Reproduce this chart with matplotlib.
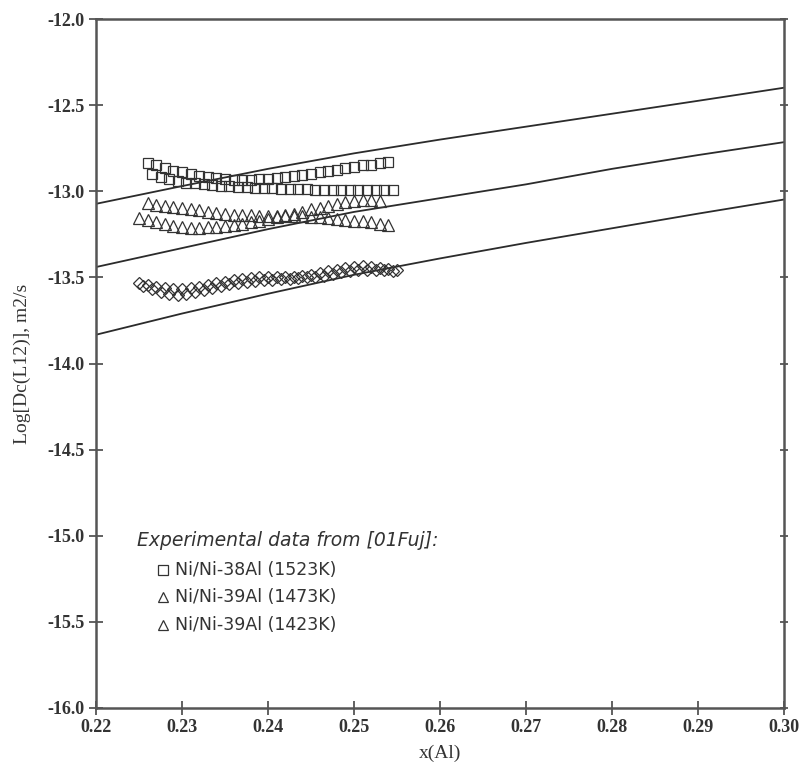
import numpy as np
import matplotlib.pyplot as plt

# calculated curves (three temperatures)
line_x = [0.22, 0.23, 0.24, 0.25, 0.26, 0.27, 0.28, 0.29, 0.30]
line_1523 = [-13.073, -12.97, -12.87, -12.78, -12.70, -12.625, -12.55, -12.475, -12.399]
line_1473 = [-13.44, -13.33, -13.22, -13.12, -13.04, -12.96, -12.87, -12.79, -12.715]
line_1423 = [-13.833, -13.71, -13.595, -13.485, -13.39, -13.30, -13.215, -13.13, -13.048]

# experimental data [01Fuj], Ni/Ni-38Al 1523K (squares, two profiles)
sq_a_x = [0.226, 0.227, 0.228, 0.229, 0.230, 0.231, 0.232, 0.233, 0.234, 0.235,
          0.236, 0.237, 0.238, 0.239, 0.240, 0.241, 0.242, 0.243, 0.244, 0.245,
          0.246, 0.247, 0.248, 0.249, 0.250, 0.251, 0.252, 0.253, 0.254]
sq_a_y = [-12.835, -12.85, -12.865, -12.88, -12.89, -12.90, -12.91, -12.92, -12.925, -12.93,
          -12.932, -12.935, -12.935, -12.93, -12.93, -12.925, -12.92, -12.91, -12.905, -12.90,
          -12.89, -12.88, -12.875, -12.865, -12.86, -12.85, -12.845, -12.835, -12.83]
sq_b_x = [0.2265, 0.2275, 0.2285, 0.2295, 0.2305, 0.2315, 0.2325, 0.2335, 0.2345, 0.2355,
          0.2365, 0.2375, 0.2385, 0.2395, 0.2405, 0.2415, 0.2425, 0.2435, 0.2445, 0.2455,
          0.2465, 0.2475, 0.2485, 0.2495, 0.2505, 0.2515, 0.2525, 0.2535, 0.2545]
sq_b_y = [-12.90, -12.915, -12.93, -12.94, -12.95, -12.955, -12.96, -12.965, -12.97, -12.97,
          -12.975, -12.975, -12.98, -12.98, -12.98, -12.985, -12.985, -12.985, -12.985, -12.99,
          -12.99, -12.99, -12.99, -12.99, -12.99, -12.99, -12.99, -12.99, -12.99]

# Ni/Ni-39Al 1473K (triangles, two profiles)
tri_a_x = [0.226, 0.227, 0.228, 0.229, 0.230, 0.231, 0.232, 0.233, 0.234, 0.235,
           0.236, 0.237, 0.238, 0.239, 0.240, 0.241, 0.242, 0.243, 0.244, 0.245,
           0.246, 0.247, 0.248, 0.249, 0.250, 0.251, 0.252, 0.253, 0.254]
tri_a_y = [-13.07, -13.078, -13.085, -13.093, -13.10, -13.105, -13.11, -13.118, -13.125, -13.13,
           -13.135, -13.138, -13.14, -13.142, -13.145, -13.145, -13.145, -13.145, -13.145, -13.148,
           -13.15, -13.155, -13.16, -13.165, -13.17, -13.175, -13.18, -13.188, -13.195]
tri_b_x = [0.225, 0.226, 0.227, 0.228, 0.229, 0.230, 0.231, 0.232, 0.233, 0.234,
           0.235, 0.236, 0.237, 0.238, 0.239, 0.240, 0.241, 0.242, 0.243, 0.244,
           0.245, 0.246, 0.247, 0.248, 0.249, 0.250, 0.251, 0.252, 0.253]
tri_b_y = [-13.155, -13.165, -13.18, -13.19, -13.20, -13.207, -13.213, -13.212, -13.21, -13.205,
           -13.20, -13.195, -13.19, -13.18, -13.17, -13.16, -13.15, -13.14, -13.13, -13.118,
           -13.105, -13.095, -13.085, -13.075, -13.065, -13.058, -13.05, -13.05, -13.055]

# Ni/Ni-39Al 1423K (diamonds, two profiles)
dia_a_x = [0.225, 0.226, 0.227, 0.228, 0.229, 0.230, 0.231, 0.232, 0.233, 0.234,
           0.235, 0.236, 0.237, 0.238, 0.239, 0.240, 0.241, 0.242, 0.243, 0.244,
           0.245, 0.246, 0.247, 0.248, 0.249, 0.250, 0.251, 0.252, 0.253, 0.254, 0.255]
dia_a_y = [-13.53, -13.545, -13.555, -13.56, -13.565, -13.565, -13.56, -13.555, -13.545, -13.535,
           -13.525, -13.515, -13.51, -13.505, -13.50, -13.50, -13.50, -13.495, -13.495, -13.49,
           -13.485, -13.475, -13.465, -13.455, -13.445, -13.44, -13.435, -13.44, -13.445, -13.45, -13.455]
dia_b_x = [0.2255, 0.2265, 0.2275, 0.2285, 0.2295, 0.2305, 0.2315, 0.2325, 0.2335, 0.2345,
           0.2355, 0.2365, 0.2375, 0.2385, 0.2395, 0.2405, 0.2415, 0.2425, 0.2435, 0.2445,
           0.2455, 0.2465, 0.2475, 0.2485, 0.2495, 0.2505, 0.2515, 0.2525, 0.2535, 0.2545]
dia_b_y = [-13.55, -13.57, -13.585, -13.595, -13.60, -13.595, -13.585, -13.575, -13.56, -13.55,
           -13.54, -13.53, -13.525, -13.52, -13.515, -13.515, -13.51, -13.51, -13.505, -13.50,
           -13.495, -13.49, -13.48, -13.47, -13.465, -13.46, -13.455, -13.455, -13.46, -13.465]

legend_title = 'Experimental data from [01Fuj]:'
legend_labels = ['Ni/Ni-38Al (1523K)', 'Ni/Ni-39Al (1473K)', 'Ni/Ni-39Al (1423K)']
legend_markers = ['s', '^', '^']

x_ticks = [0.22, 0.23, 0.24, 0.25, 0.26, 0.27, 0.28, 0.29, 0.30]
y_ticks = [-16.0, -15.5, -15.0, -14.5, -14.0, -13.5, -13.0, -12.5, -12.0]

fig = plt.figure(figsize=(8.02, 7.69), dpi=100)
ax = fig.add_axes([96/802, 1 - 708/769, 688/802, 689/769])

line_col = '#2b2b2b'
for yy in (line_1523, line_1473, line_1423):
    ax.plot(line_x, yy, color=line_col, lw=1.3)

mk = dict(ls='none', mfc='none', mec='#333333', mew=0.9)
ax.plot(sq_a_x, sq_a_y, marker='s', ms=7.5, **mk)
ax.plot(sq_b_x, sq_b_y, marker='s', ms=7.5, **mk)
ax.plot(tri_a_x, tri_a_y, marker='^', ms=8, **mk)
ax.plot(tri_b_x, tri_b_y, marker='^', ms=8, **mk)
ax.plot(dia_a_x, dia_a_y, marker='D', ms=6, **mk)
ax.plot(dia_b_x, dia_b_y, marker='D', ms=6, **mk)

# hand-drawn legend block
ax.text(0.0596, 0.2438, legend_title, transform=ax.transAxes, style='italic',
        fontsize=13.5, family='DejaVu Sans', color='#333333', va='center')
row_y = [0.2003, 0.1611, 0.1205]
for m, lab, yy in zip(legend_markers, legend_labels, row_y):
    ax.plot([0.0974], [yy], marker=m, ms=6.5, transform=ax.transAxes, clip_on=False, **mk)
    ax.text(0.1148, yy, lab, transform=ax.transAxes, fontsize=12.5,
            family='DejaVu Sans', color='#333333', va='center')

ax.set_xlim(0.22, 0.30)
ax.set_ylim(-16.0, -12.0)
ax.set_xticks(x_ticks)
ax.set_yticks(y_ticks)
ax.set_xticklabels([f'{v:.2f}' for v in x_ticks])
ax.set_yticklabels([f'{v:.1f}' for v in y_ticks])

for sp in ax.spines.values():
    sp.set_color('#555555')
    sp.set_linewidth(1.8)
ax.tick_params(axis='both', direction='inout', length=10, width=1.3, color='#555555',
               labelsize=13, labelcolor='#333333', pad=3)
ax.tick_params(axis='y', right=True, which='both')
for t in ax.yaxis.get_major_ticks():
    t.tick2line.set_markersize(6)
for lab in ax.get_xticklabels() + ax.get_yticklabels():
    lab.set_family('Liberation Serif')
    lab.set_fontweight('bold')

ax.set_xlabel('x(Al)', family='Liberation Serif', fontsize=14, color='#333333', labelpad=6)
ax.set_ylabel('Log[Dc(L12)], m2/s', family='Liberation Serif', fontsize=14,
              color='#333333', labelpad=12)

fig.savefig('out.png', dpi=100)
